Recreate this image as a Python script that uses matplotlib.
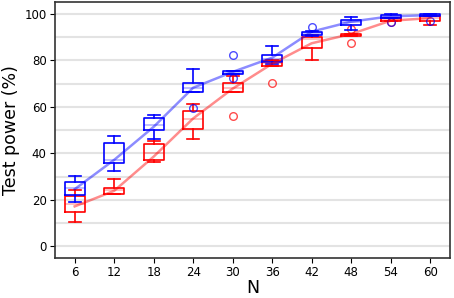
import numpy as np
import matplotlib
matplotlib.use('Agg')
import matplotlib.pyplot as plt
from matplotlib.ticker import MultipleLocator

# sample sizes
n_labels = ['6', '12', '18', '24', '30', '36', '42', '48', '54', '60']

# blue method: box statistics (test power, %)
blue_whishi = [30.2, 47.4, 56.3, 76.3, 75.3, 86.3, 92.4, 98.4, 100.0, 100.0]
blue_q3 = [27.9, 44.3, 55.3, 70.2, 75.2, 82.2, 92.3, 97.3, 99.4, 100.0]
blue_med = [25.0, 37.0, 52.0, 68.0, 74.6, 80.5, 91.6, 96.5, 98.6, 99.6]
blue_q1 = [22.2, 36.0, 50.1, 66.4, 74.2, 79.4, 91.0, 95.3, 98.0, 99.1]
blue_whislo = [19.1, 32.2, 46.2, 66.4, 74.2, 78.4, 90.5, 93.0, 98.0, 99.1]
blue_fliers = [[], [], [], [59.3], [82.2, 72.3], [], [94.5], [], [96.3], [97.0]]
blue_line = [24.6, 37.2, 51.4, 68.2, 75.0, 81.1, 92.3, 96.6, 98.9, 99.4]

# red method
red_whishi = [24.1, 29.1, 45.4, 61.2, 73.1, 80.0, 91.0, 91.3, 98.0, 99.1]
red_q3 = [21.5, 25.1, 44.2, 58.3, 70.2, 79.6, 90.2, 91.3, 98.0, 99.1]
red_med = [18.4, 24.1, 40.0, 54.7, 68.0, 79.0, 89.2, 90.8, 97.5, 98.0]
red_q1 = [14.7, 22.6, 37.2, 50.4, 66.2, 77.4, 85.2, 90.3, 97.0, 97.0]
red_whislo = [10.4, 22.6, 36.2, 46.2, 66.2, 77.4, 80.2, 90.3, 97.0, 95.3]
red_fliers = [[], [], [], [], [56.1], [70.2], [], [87.3, 93.4], [96.3], []]
red_line = [17.2, 23.9, 38.6, 55.0, 67.8, 78.5, 87.3, 91.3, 97.0, 98.1]


def make_stats(whislo, q1, med, q3, whishi, fliers):
    stats = []
    for i in range(len(med)):
        stats.append({'whislo': whislo[i], 'q1': q1[i], 'med': med[i],
                      'q3': q3[i], 'whishi': whishi[i],
                      'fliers': np.array(fliers[i])})
    return stats


def draw_boxes(ax, stats, color):
    ax.bxp(stats, positions=np.arange(1, len(stats) + 1), widths=0.5,
           capwidths=0.3,
           boxprops=dict(color=color, linewidth=1.2),
           whiskerprops=dict(color=color, linewidth=1.2),
           capprops=dict(color=color, linewidth=1.2),
           medianprops=dict(color=color, linewidth=1.2, alpha=0.3),
           flierprops=dict(marker='o', markerfacecolor='none',
                           markeredgecolor=color, markersize=5.5,
                           alpha=0.7))


fig = plt.figure(figsize=(4.54, 2.98), dpi=100)
ax = fig.add_axes([0.121, 0.134, 0.870, 0.859])

pos = np.arange(1, len(n_labels) + 1)
draw_boxes(ax, make_stats(red_whislo, red_q1, red_med, red_q3, red_whishi, red_fliers), 'red')
draw_boxes(ax, make_stats(blue_whislo, blue_q1, blue_med, blue_q3, blue_whishi, blue_fliers), 'blue')
ax.plot(pos, red_line, color='red', alpha=0.45, linewidth=1.8)
ax.plot(pos, blue_line, color='blue', alpha=0.45, linewidth=1.8)

ax.set_xlim(0.5, 10.5)
ax.set_ylim(-5, 105)
ax.set_xticks(pos)
ax.set_xticklabels(n_labels)
ax.yaxis.set_major_locator(MultipleLocator(20))
ax.yaxis.set_minor_locator(MultipleLocator(10))
ax.tick_params(axis='y', which='minor', length=0)
ax.tick_params(which='major', labelsize=8.5, length=3.5, pad=2.5)
ax.grid(True, axis='y', which='both', color='#e3e3e3', linewidth=1.5)
ax.set_axisbelow(True)
for s in ax.spines.values():
    s.set_linewidth(1.2)
    s.set_color('#333333')

ax.set_xlabel('N', fontsize=12.5, labelpad=0)
ax.set_ylabel('Test power (%)', fontsize=12.5, labelpad=3)

fig.savefig('out.png', dpi=100)
